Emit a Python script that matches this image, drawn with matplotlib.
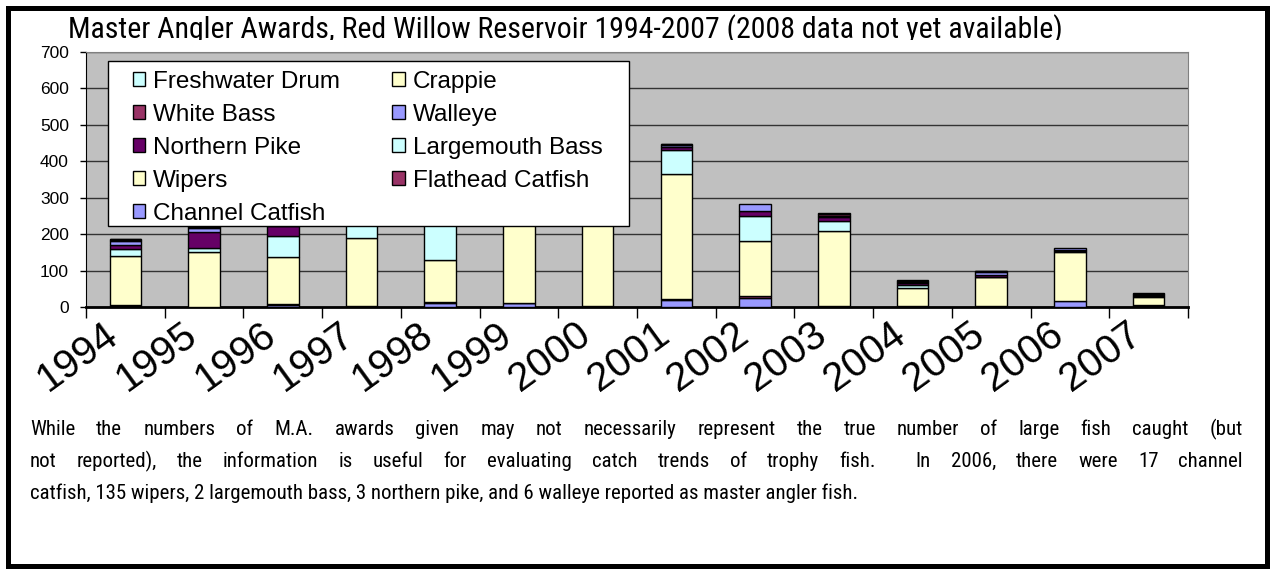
import numpy as np
import matplotlib
matplotlib.use("Agg")
import matplotlib.pyplot as plt
from matplotlib import font_manager
from matplotlib.patches import Rectangle, Patch
from matplotlib.transforms import Bbox, TransformedBbox, ScaledTranslation

# data (bottom of stack first)
years = ["1994", "1995", "1996", "1997", "1998", "1999", "2000",
         "2001", "2002", "2003", "2004", "2005", "2006", "2007"]
channel_catfish = [4, 1, 5, 2, 10, 10, 2, 20, 26, 2, 2, 2, 17, 3]
flathead_catfish = [2, 0, 3, 2, 4, 2, 1, 3, 3, 2, 2, 2, 0, 2]
wipers = [135, 149, 129, 186, 116, 215, 222, 341, 152, 206, 49, 78, 135, 22]
largemouth_bass = [18, 13, 57, 35, 96, 5, 5, 66, 68, 26, 8, 1, 2, 2]
northern_pike = [12, 44, 28, 2, 2, 2, 2, 8, 14, 10, 4, 4, 3, 4]
walleye = [10, 10, 4, 2, 3, 3, 3, 6, 21, 5, 3, 10, 6, 2]
white_bass = [3, 2, 2, 1, 1, 1, 1, 2, 0, 3, 2, 1, 0, 1]
crappie = [2, 1, 1, 1, 1, 1, 1, 1, 0, 2, 2, 0, 0, 1]
freshwater_drum = [1, 1, 1, 1, 1, 1, 1, 1, 0, 2, 1, 1, 0, 1]

series_names = ["Channel Catfish", "Flathead Catfish", "Wipers", "Largemouth Bass",
                "Northern Pike", "Walleye", "White Bass", "Crappie", "Freshwater Drum"]
series_values = [channel_catfish, flathead_catfish, wipers, largemouth_bass,
                 northern_pike, walleye, white_bass, crappie, freshwater_drum]
series_colors = ["#9999FF", "#993366", "#FFFFCC", "#CCFFFF",
                 "#660066", "#9999FF", "#993366", "#FFFFCC", "#CCFFFF"]
legend_order = ["Freshwater Drum", "White Bass", "Northern Pike", "Wipers", "Channel Catfish",
                "Crappie", "Walleye", "Largemouth Bass", "Flathead Catfish"]

title = "Master Angler Awards, Red Willow Reservoir 1994-2007 (2008 data not yet available)"
note_lines = [
    "While the numbers of M.A. awards given may not necessarily represent the true number of large fish caught (but",
    "not reported), the information is useful for evaluating catch trends of trophy fish.  In 2006, there were 17 channel",
    "catfish, 135 wipers, 2 largemouth bass, 3 northern pike, and 6 walleye reported as master angler fish.",
]

W, H = 1272, 573
arial = ["Liberation Sans", "DejaVu Sans"]

# a narrow face if one is installed, otherwise Arial-like and sized to fit
installed = {f.name for f in font_manager.fontManager.ttflist}
narrow = arial
for cand in ["Liberation Sans Narrow", "Arial Narrow", "Roboto Condensed", "Open Sans Condensed"]:
    if cand in installed:
        narrow = [cand, "Liberation Sans"]
        break


def fx(px):
    return px / W


def fy(py):
    return 1 - py / H


fig = plt.figure(figsize=(W / 100, H / 100), dpi=100)
renderer = fig.canvas.get_renderer()
ax = fig.add_axes([fx(86), fy(307), fx(1188) - fx(86), fy(52) - fy(307)])
ax.set_facecolor("#C0C0C0")

x = np.arange(len(years))
bottom = np.zeros(len(years))
for name, vals, color in zip(series_names, series_values, series_colors):
    v = np.array(vals, dtype=float)
    ax.bar(x, v, 0.4, bottom=bottom, color=color, edgecolor="black",
           linewidth=np.where(v > 0, 1.0, 0.0), zorder=3)
    bottom += v

ax.set_xlim(-0.5, len(years) - 0.5)
ax.set_ylim(0, 700)
ax.set_yticks(np.arange(0, 701, 100))
ax.yaxis.grid(True, color="#333333", linewidth=1)
ax.set_axisbelow(True)

ax.set_xticks(x)
ax.set_xticklabels(years, rotation=36, ha="right", va="top", fontsize=29, family=arial)
shift = ScaledTranslation(15 / 100, 0, fig.dpi_scale_trans)
for lab in ax.get_xticklabels():
    lab.set_transform(lab.get_transform() + shift)
ax.set_xticks(np.arange(-0.5, len(years), 1), minor=True)
ax.tick_params(axis="x", which="major", length=0, pad=6)
ax.tick_params(axis="x", which="minor", length=8, width=1, direction="out", color="black")
ax.tick_params(axis="y", length=4.3, width=1, pad=8, labelsize=12.5, color="black")
for lab in ax.get_yticklabels():
    lab.set_family(arial)

ax.spines["left"].set_color("black")
ax.spines["bottom"].set_color("black")
ax.spines["bottom"].set_linewidth(2)
ax.spines["top"].set_color("#808080")
ax.spines["right"].set_color("#808080")

# legend box + entries
fig.add_artist(Rectangle((fx(108), fy(226)), fx(629) - fx(108), fy(61) - fy(226),
                         transform=fig.transFigure, facecolor="white",
                         edgecolor="black", linewidth=1, zorder=3))
color_of = dict(zip(series_names, series_colors))
handles = [Patch(facecolor=color_of[n], edgecolor="black", linewidth=1) for n in legend_order]
leg = fig.legend(handles, legend_order, loc="upper left", bbox_to_anchor=(fx(133), fy(71)),
                 bbox_transform=fig.transFigure, ncol=2, frameon=False, borderpad=0,
                 borderaxespad=0, handlelength=0.5, handleheight=0.5, handletextpad=0.33,
                 columnspacing=2.15, labelspacing=0.45,
                 prop={"family": arial, "size": 17.5})
leg.set_zorder(5)


def fit_size(text, target_px, size, family):
    probe = fig.text(0, 0, text, fontsize=size, family=family)
    width = probe.get_window_extent(renderer).width
    probe.remove()
    return size * target_px / width


# title, clipped at the bottom like the original
title_size = fit_size(title, 994, 20, narrow)
t = fig.text(fx(565), fy(38), title, ha="center", va="baseline", fontsize=title_size, family=narrow)
t.set_clip_box(TransformedBbox(Bbox([[0, fy(39.5)], [1, 1]]), fig.transFigure))


# footnote, first two lines justified
def justified(line, y, x0, x1, **kw):
    words = line.split(" ")
    arts = [fig.text(0, fy(y), w, va="baseline", **kw) for w in words]
    widths = [a.get_window_extent(renderer).width if w else 0 for a, w in zip(arts, words)]
    gap = (x1 - x0 - sum(widths)) / (len(words) - 1)
    pos = x0
    for a, wd in zip(arts, widths):
        a.set_x(fx(pos))
        pos += wd + gap


note_size = fit_size(note_lines[2], 828, 15.5, narrow)
note_kw = dict(fontsize=note_size, family=narrow, color="black")
justified(note_lines[0], 435, 30, 1243, **note_kw)
justified(note_lines[1], 467, 30, 1243, **note_kw)
fig.text(fx(30), fy(499), note_lines[2], va="baseline", **note_kw)

# outer frame
fig.add_artist(Rectangle((fx(8), fy(565.5)), fx(1266.5) - fx(8), fy(8) - fy(565.5),
                         transform=fig.transFigure, fill=False, edgecolor="black",
                         linewidth=3.6, zorder=6))

fig.savefig("out.png", dpi=100)
